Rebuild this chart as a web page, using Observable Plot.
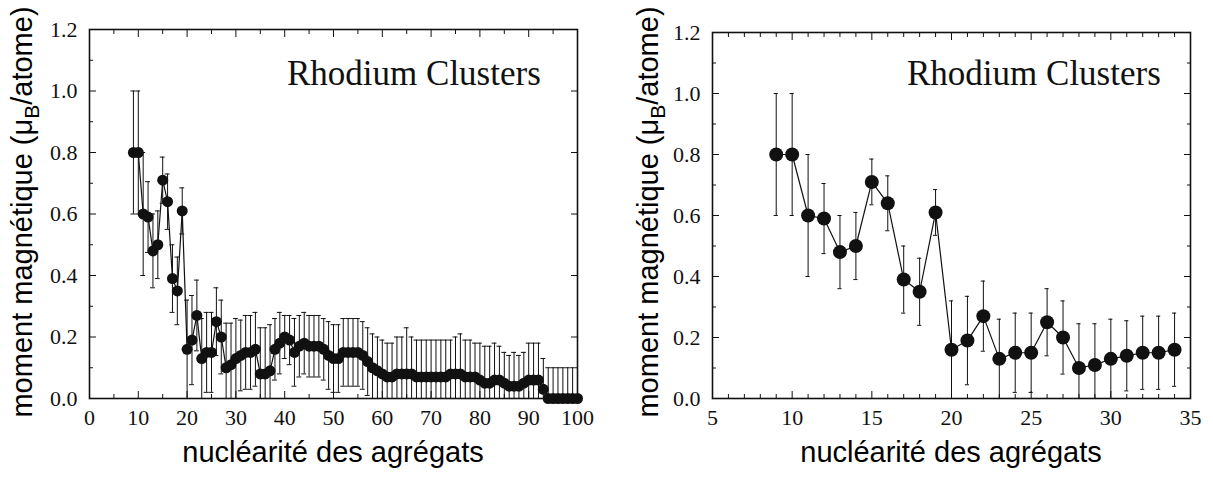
<!DOCTYPE html>
<html><head><meta charset="utf-8">
<script src="https://cdn.jsdelivr.net/npm/d3@7"></script>
<script src="https://cdn.jsdelivr.net/npm/@observablehq/plot@0.6"></script>
<style>
body{margin:0;background:#fff;}
#wrap{display:flex;width:1213px;height:477px;background:#fff;}
</style></head><body><div id="wrap"></div>
<script>
// cluster size (number of atoms)
const nuclearity = [9,10,11,12,13,14,15,16,17,18,19,20,21,22,23,24,25,26,27,28,29,30,31,32,33,34,
  35,36,37,38,39,40,41,42,43,44,45,46,47,48,49,50,51,52,53,54,55,56,57,58,59,60,
  61,62,63,64,65,66,67,68,69,70,71,72,73,74,75,76,77,78,79,80,
  81,82,83,84,85,86,87,88,89,90,91,92,93,94,95,96,97,98,99,100];
// magnetic moment per atom (μB)
const moment = [0.80,0.80,0.60,0.59,0.48,0.50,0.71,0.64,0.39,0.35,0.61,0.16,0.19,0.27,0.13,0.15,0.15,0.25,0.20,0.10,0.11,0.13,0.14,0.15,0.15,0.16,
  0.08,0.08,0.09,0.16,0.18,0.20,0.19,0.15,0.17,0.18,0.17,0.17,0.17,0.16,0.14,0.13,0.13,0.15,0.15,0.15,0.15,0.14,0.12,0.10,0.09,0.08,
  0.07,0.07,0.08,0.08,0.08,0.08,0.07,0.07,0.07,0.07,0.07,0.07,0.07,0.08,0.08,0.08,0.07,0.07,0.07,0.06,
  0.05,0.05,0.06,0.06,0.05,0.04,0.04,0.04,0.05,0.06,0.06,0.06,0.03,0.00,0.00,0.00,0.00,0.00,0.00,0.00];
// error bar half-width (μB)
const uncertainty = [0.20,0.20,0.20,0.115,0.12,0.11,0.075,0.09,0.11,0.11,0.075,0.16,0.145,0.115,0.13,0.13,0.13,0.11,0.12,0.145,0.135,0.13,0.115,0.12,0.12,0.12,
  0.15,0.15,0.15,0.10,0.10,0.07,0.08,0.11,0.10,0.10,0.10,0.10,0.10,0.10,0.11,0.11,0.11,0.11,0.11,0.11,0.11,0.11,0.11,0.11,0.11,0.11,
  0.11,0.11,0.12,0.12,0.15,0.12,0.12,0.12,0.12,0.12,0.12,0.12,0.12,0.11,0.12,0.13,0.12,0.12,0.11,0.12,
  0.12,0.12,0.12,0.11,0.10,0.10,0.11,0.10,0.10,0.12,0.12,0.12,0.10,0.10,0.10,0.10,0.10,0.10,0.10,0.10];

const zoomLimit = 34;
const yLabelTicks = [0,0.2,0.4,0.6,0.8,1.0,1.2];
const yMinorTicks = [0.1,0.3,0.5,0.7,0.9,1.1];
const leftXLabels = [0,10,20,30,40,50,60,70,80,90,100];
const leftXMinor = [5,15,25,35,45,55,65,75,85,95];
const rightXLabels = [5,10,15,20,25,30,35];
const rightXMinor = [6,7,8,9,11,12,13,14,16,17,18,19,21,22,23,24,26,27,28,29,31,32,33,34];
const annotation = "Rhodium Clusters";
const xTitle = "nucléarité des agrégats";

const all = nuclearity.map((n, i) => ({n, m: moment[i], e: uncertainty[i]}));
const zoomed = all.filter(d => d.n <= zoomLimit);

const INK = "#111";
const SERIF = "'Liberation Serif', 'Times New Roman', serif";
const SANS = "'Liberation Sans', Arial, sans-serif";

function panel(cfg) {
  const {data, width, marginLeft, marginRight, marginTop, xDomain, xLabels, xMinor, r, cap, rightMinor, titleX, yLabelX} = cfg;
  const height = 477, marginBottom = 79;
  const tickAxes = [];
  tickAxes.push(Plot.axisX(xLabels, {anchor: "bottom", tickSize: 7, dy: -7, fill: "none", stroke: INK, label: null}));
  tickAxes.push(Plot.axisX(xMinor, {anchor: "bottom", tickSize: 4, dy: -4, fill: "none", stroke: INK, label: null}));
  tickAxes.push(Plot.axisX(xLabels, {anchor: "top", tickSize: 7, dy: 7, fill: "none", stroke: INK, label: null}));
  tickAxes.push(Plot.axisX(xMinor, {anchor: "top", tickSize: 4, dy: 4, fill: "none", stroke: INK, label: null}));
  tickAxes.push(Plot.axisY(yLabelTicks, {anchor: "left", tickSize: 7, dx: 7, fill: "none", stroke: INK, label: null}));
  tickAxes.push(Plot.axisY(yMinorTicks, {anchor: "left", tickSize: 4, dx: 4, fill: "none", stroke: INK, label: null}));
  tickAxes.push(Plot.axisY(yLabelTicks, {anchor: "right", tickSize: 7, dx: -7, fill: "none", stroke: INK, label: null}));
  if (rightMinor) tickAxes.push(Plot.axisY(yMinorTicks, {anchor: "right", tickSize: 4, dx: -4, fill: "none", stroke: INK, label: null}));

  const svg = Plot.plot({
    width, height, marginLeft, marginRight, marginTop, marginBottom,
    style: {color: INK, background: "#fff"},
    x: {domain: xDomain, axis: null},
    y: {domain: [0, 1.2], axis: null},
    marks: [
      Plot.ruleX(data, {x: "n", y1: d => d.m - d.e, y2: d => d.m + d.e, stroke: INK, strokeWidth: 1, clip: true}),
      Plot.ruleY(data, {y: d => d.m + d.e, x1: d => d.n - cap, x2: d => d.n + cap, stroke: INK, strokeWidth: 1, clip: true}),
      Plot.ruleY(data, {y: d => d.m - d.e, x1: d => d.n - cap, x2: d => d.n + cap, stroke: INK, strokeWidth: 1, clip: true}),
      Plot.line(data, {x: "n", y: "m", stroke: INK, strokeWidth: 1.2}),
      Plot.dot(data, {x: "n", y: "m", r, fill: INK, stroke: "none"}),
      Plot.axisX(xLabels, {anchor: "bottom", tickSize: 0, tickPadding: 11, fontSize: 22, fontFamily: SERIF, fill: INK, label: null, tickFormat: d => String(d)}),
      Plot.axisY(yLabelTicks, {anchor: "left", tickSize: 0, tickPadding: 12, fontSize: 22, fontFamily: SERIF, fill: INK, label: null, tickFormat: d3.format(".1f")}),
      ...tickAxes,
      Plot.frame({stroke: INK, strokeWidth: 1.6})
    ]
  });
  const s = d3.select(svg);
  // serif tick labels
  s.selectAll("text").each(function () {
    this.setAttribute("font-family", SERIF);
    this.setAttribute("font-size", "22");
  });
  // annotation inside the frame
  s.append("text").attr("x", titleX).attr("y", 85).attr("text-anchor", "start")
    .attr("font-family", SERIF).attr("font-size", 35).attr("fill", INK).text(annotation);
  // x title
  const cx = marginLeft + (width - marginLeft - marginRight) / 2;
  s.append("text").attr("x", cx).attr("y", 462).attr("text-anchor", "middle")
    .attr("font-family", SANS).attr("font-size", 29).attr("fill", "#000").text(xTitle);
  // y title with subscript B
  const yt = s.append("text").attr("transform", `translate(${yLabelX},212) rotate(-90)`)
    .attr("text-anchor", "middle").attr("font-family", SANS).attr("font-size", 29).attr("fill", "#000");
  yt.append("tspan").text("moment magnétique (μ");
  yt.append("tspan").attr("font-size", 21).attr("dy", 7).text("B");
  yt.append("tspan").attr("dy", -7).text("/atome)");
  return svg;
}

const wrap = document.getElementById("wrap");
wrap.appendChild(panel({
  data: all, width: 606, marginLeft: 89, marginRight: 29, marginTop: 29,
  xDomain: [0, 100], xLabels: leftXLabels, xMinor: leftXMinor, r: 5.5, cap: 0.5,
  rightMinor: false, titleX: 287, yLabelX: 32
}));
wrap.appendChild(panel({
  data: zoomed, width: 607, marginLeft: 106, marginRight: 23, marginTop: 32,
  xDomain: [5, 35], xLabels: rightXLabels, xMinor: rightXMinor, r: 7, cap: 0.13,
  rightMinor: true, titleX: 301, yLabelX: 52
}));
</script></body></html>
